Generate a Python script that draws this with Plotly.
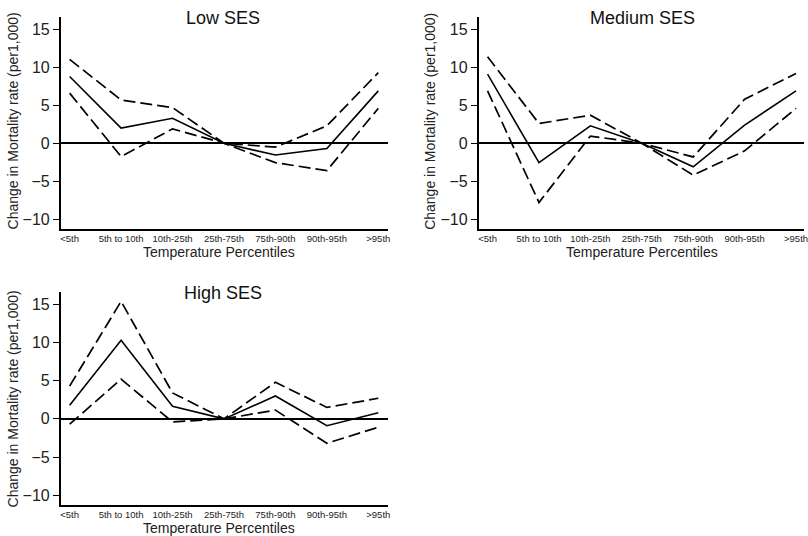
import plotly.graph_objects as go

categories = ["<5th", "5th to 10th", "10th-25th", "25th-75th", "75th-90th", "90th-95th", ">95th"]

low_est = [8.8, 2.0, 3.3, 0.0, -1.55, -0.7, 6.9]
low_upper = [11.05, 5.7, 4.7, 0.0, -0.5, 2.3, 9.3]
low_lower = [6.6, -1.75, 1.9, 0.0, -2.55, -3.6, 4.6]

med_est = [9.1, -2.55, 2.3, 0.0, -3.1, 2.4, 6.9]
med_upper = [11.4, 2.6, 3.7, 0.0, -1.8, 5.8, 9.2]
med_lower = [6.9, -7.8, 0.95, 0.0, -4.2, -1.0, 4.6]

high_est = [1.8, 10.3, 1.65, 0.0, 3.0, -0.9, 0.8]
high_upper = [4.3, 15.4, 3.4, 0.0, 4.8, 1.5, 2.7]
high_lower = [-0.7, 5.2, -0.4, 0.0, 1.15, -3.2, -1.1]

panel_titles = ["Low SES", "Medium SES", "High SES"]
y_ticks = [-10, -5, 0, 5, 10, 15]
x_title = "Temperature Percentiles"
y_title = "Change in Mortality rate (per1,000)"

W, H = 808, 536
FONT = "Liberation Sans, Arial, sans-serif"

fig = go.Figure()

panels = [
    (low_est, low_upper, low_lower, "x", "y"),
    (med_est, med_upper, med_lower, "x2", "y2"),
    (high_est, high_upper, high_lower, "x3", "y3"),
]
for est, up, lo, xa, ya in panels:
    for vals, dash, w in [(up, "12px,5px", 1.7), (lo, "12px,5px", 1.7), (est, "solid", 1.6)]:
        fig.add_trace(go.Scatter(x=categories, y=vals, mode="lines", xaxis=xa, yaxis=ya,
                                 line=dict(color="black", width=w, dash=dash),
                                 showlegend=False, hoverinfo="skip"))

def px_x(p):
    return p / W

def px_y(p):
    return 1 - p / H

yr = [-11.33, 16.67]

def xaxis(domain, rng):
    return dict(domain=domain, type="category", categoryorder="array", categoryarray=categories,
                range=rng, showline=True, linecolor="black", linewidth=1.5, showgrid=False,
                zeroline=False, ticks="", ticklen=0,
                tickfont=dict(family=FONT, size=9.5, color="#222"), tickangle=0, fixedrange=True)

def yaxis(domain, anchor):
    return dict(domain=domain, range=yr, showline=True, linecolor="black", linewidth=1.5,
                showgrid=False, zeroline=True, zerolinecolor="black", zerolinewidth=1.5,
                tickvals=y_ticks, ticks="outside", ticklen=6, tickwidth=1.2, tickcolor="black",
                tickfont=dict(family=FONT, size=16, color="#222"), anchor=anchor, fixedrange=True)

top_dom = [px_y(229.3), px_y(16.7)]
bot_dom = [px_y(505.3), px_y(291.7)]

fig.update_layout(
    width=W, height=H, margin=dict(l=0, r=0, t=0, b=0),
    paper_bgcolor="white", plot_bgcolor="white", showlegend=False,
    xaxis=dict(xaxis([px_x(61), px_x(390)], [-0.174, 6.19]), anchor="y"),
    yaxis=yaxis(top_dom, "x"),
    xaxis2=dict(xaxis([px_x(481), 1.0], [-0.174, 6.155]), anchor="y2"),
    yaxis2=yaxis(top_dom, "x2"),
    xaxis3=dict(xaxis([px_x(61), px_x(390)], [-0.174, 6.19]), anchor="y3"),
    yaxis3=yaxis(bot_dom, "x3"),
)

anns = []
for t, cx, cy in [(panel_titles[0], 224, 18), (panel_titles[1], 646, 18), (panel_titles[2], 224, 293)]:
    anns.append(dict(text=t, x=px_x(cx), y=px_y(cy), xref="paper", yref="paper",
                     xanchor="center", yanchor="middle", showarrow=False,
                     font=dict(family=FONT, size=18, color="#111")))
for cx, cy in [(220, 252.5), (645, 252.5), (220, 528)]:
    anns.append(dict(text=x_title, x=px_x(cx), y=px_y(cy), xref="paper", yref="paper",
                     xanchor="center", yanchor="middle", showarrow=False,
                     font=dict(family=FONT, size=14, color="#222")))
for cx, cy in [(13.5, 121), (432, 121), (13.5, 399)]:
    anns.append(dict(text=y_title, x=px_x(cx), y=px_y(cy), xref="paper", yref="paper",
                     xanchor="center", yanchor="middle", showarrow=False, textangle=-90,
                     font=dict(family=FONT, size=14, color="#222")))
fig.update_layout(annotations=anns)

fig.write_html("out.html", config={"displayModeBar": False},
               post_script="document.body.style.margin='0';document.body.style.overflow='hidden';")
